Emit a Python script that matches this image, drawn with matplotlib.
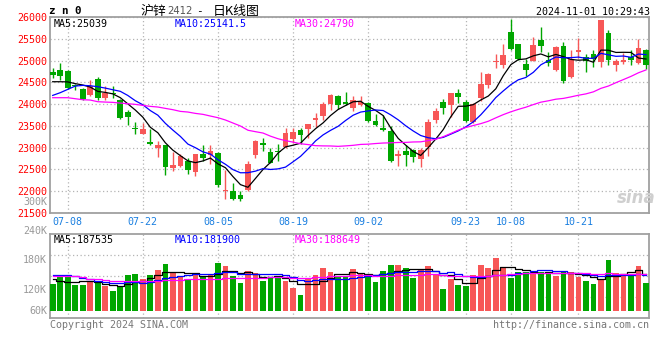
import matplotlib
matplotlib.use("Agg")
import matplotlib.pyplot as plt
import numpy as np
import pandas as pd

plt.rcParams['font.family'] = ['DejaVu Sans Mono', 'Noto Sans CJK SC']

# trading days shown, 2024-07-04 .. 2024-11-01 (exchange holidays removed)
holidays = ['2024-09-16', '2024-09-17', '2024-10-01', '2024-10-02',
            '2024-10-03', '2024-10-04', '2024-10-07']
dates = [d for d in pd.bdate_range('2024-07-04', '2024-11-01')
         if d.strftime('%Y-%m-%d') not in holidays]
tick_labels = ['07-08', '07-22', '08-05', '08-19', '09-02', '09-23', '10-08', '10-21']

opens = [24735, 24774, 24751, 24430, 24338, 24208, 24583, 24147, 24254, 24086,
         23818, 23459, 23313, 23130, 23000, 23054, 22526, 22572, 22694, 22442,
         22847, 22832, 22878, 22014, 21999, 21907, 22029, 22832, 23107, 22901,
         22924, 23015, 23191, 23398, 23420, 23642, 23726, 24009, 24185, 24055,
         23917, 23979, 24032, 23612, 23459, 23375, 22817, 22916, 22939, 22748,
         23015, 23627, 24040, 23979, 24246, 24055, 23589, 24139, 24437, 24972,
         24896, 25653, 25370, 24911, 24988, 25469, 25018, 24774, 25324, 24621,
         25202, 25087, 25141, 24965, 25622, 24896, 24965, 25079, 24942, 25240]
highs = [24835, 24934, 24774, 24468, 24361, 24560, 24621, 24422, 24407, 24124,
         23856, 23596, 23558, 23420, 23145, 23054, 22901, 22847, 22755, 22862,
         23054, 23054, 22901, 22495, 22197, 22006, 22694, 23168, 23229, 23000,
         23076, 23443, 23443, 23451, 23550, 23787, 24047, 24239, 24200, 24284,
         24177, 24177, 24055, 23765, 23742, 23497, 22939, 23054, 22977, 23000,
         23650, 23902, 24109, 24246, 24338, 24086, 24032, 24743, 24720, 25156,
         25370, 25943, 25370, 25041, 25546, 25775, 25202, 25332, 25431, 25232,
         25508, 25141, 25232, 25920, 25691, 25026, 25179, 25232, 25485, 25263]
lows = [24605, 24552, 24353, 24323, 24101, 24193, 24086, 24086, 24131, 23665,
        23520, 23306, 23306, 23061, 22786, 22373, 22465, 22557, 22388, 22342,
        22694, 22633, 22106, 21815, 21807, 21777, 22006, 22771, 22924, 22641,
        22694, 23000, 23107, 23076, 23229, 23474, 23627, 23864, 23879, 23979,
        23841, 23956, 23596, 23489, 23382, 22671, 22580, 22580, 22679, 22557,
        22809, 23573, 23780, 23703, 24032, 23589, 23573, 24070, 24361, 24835,
        24835, 25240, 25018, 24644, 24988, 25194, 24873, 24758, 24491, 24605,
        25064, 24735, 24850, 24850, 24888, 24758, 24926, 24896, 24926, 24797]
closes = [24659, 24644, 24368, 24407, 24116, 24422, 24147, 24254, 24238, 23680,
          23711, 23436, 23436, 23076, 23054, 22556, 22595, 22801, 22480, 22847,
          22755, 22924, 22136, 22037, 21830, 21830, 22618, 23153, 23061, 22648,
          22893, 23329, 23352, 23291, 23535, 23673, 23994, 24200, 23979, 23994,
          24101, 24055, 23612, 23512, 23405, 22694, 22847, 22832, 22786, 22947,
          23589, 23833, 23917, 24246, 24162, 23604, 24009, 24453, 24697, 24995,
          25118, 25263, 25034, 24781, 25347, 25332, 24934, 25309, 24529, 25026,
          25240, 24988, 25026, 25920, 25011, 24988, 25003, 25011, 25278, 24896]
volumes = [137700, 175100, 183600, 132600, 132600, 146200, 146200, 129200, 102000, 124100,
           183600, 188700, 163200, 183600, 209100, 239700, 197200, 175100, 158100, 192100,
           171700, 183600, 246500, 229500, 178500, 141100, 204000, 192100, 153000, 171700,
           171700, 153000, 119000, 81600, 163200, 183600, 221000, 198900, 175100, 175100,
           214200, 193800, 187000, 147900, 204000, 234600, 234600, 219300, 168300, 215900,
           229500, 188700, 112200, 163200, 132600, 127500, 183600, 234600, 219300, 270300,
           219300, 168300, 198900, 198900, 198900, 198900, 193800, 180200, 204000, 198900,
           173400, 153000, 137700, 158100, 261800, 193800, 188700, 183600, 229500, 142800]

# moving-average values at the left edge (they depend on days before the window)
ma5_head = [24514, 24514, 24510, 24470]
ma10_head = [24200, 24262, 24338, 24414, 24430, 24422, 24399, 24368, 24330]
ma30_head = [24147, 24147, 24147, 24124, 24101, 24093, 24055, 24047, 24040, 24024,
             24009, 23994, 23971, 23948, 23933, 23902, 23872, 23833, 23818, 23787,
             23765, 23726, 23688, 23635, 23566, 23497, 23400, 23367, 23336]
vma5_head = [163200, 153000, 149600, 149600]
vma10_head = [183600, 183600, 181900, 180200, 170000, 161500, 153000, 147900, 144500]
vma30_head = [178500, 178500, 178500, 176800, 175100, 163200, 161500, 156400, 153000, 153000,
              153000, 151300, 151300, 153000, 154700, 156400, 158100, 159800, 161500, 161500,
              163200, 164900, 164900, 166600, 166600, 168300, 168300, 170000, 170000]

RED = '#f75757'
GREEN = '#00a600'
GRID = '#b4b4b4'
FRAME = '#a0a0a0'
FS = 7.2


def moving_avg(values, n, head):
    s = pd.Series(values, dtype=float).rolling(n).mean()
    s.iloc[:len(head)] = head
    return s.values


W, H = 660, 360


def box(l, t, r, b):
    return [l / W, 1 - b / H, (r - l) / W, (b - t) / H]


def px_text(x, y, s, **kw):
    kw.setdefault('fontsize', FS)
    kw.setdefault('va', 'center')
    return fig.text(x / W, 1 - y / H, s, **kw)


fig = plt.figure(figsize=(6.6, 3.6), dpi=100)
ax = fig.add_axes(box(50, 17, 649, 213))
axv = fig.add_axes(box(50, 234, 649, 318))

x = np.arange(len(dates))
o = np.array(opens, float)
c = np.array(closes, float)
h = np.array(highs, float)
l = np.array(lows, float)
colors = np.where(c >= o, RED, GREEN)

# candles
ax.vlines(x, l, h, colors=colors, lw=1, zorder=3)
ax.bar(x, np.maximum(np.abs(c - o), 25), bottom=np.minimum(o, c), width=0.76,
       color=colors, linewidth=0, zorder=3)

ax.plot(x, moving_avg(closes, 5, ma5_head), color='black', lw=0.9, zorder=4)
ax.plot(x, moving_avg(closes, 10, ma10_head), color='#0000ff', lw=0.9, zorder=4)
ax.plot(x, moving_avg(closes, 30, ma30_head), color='#ff00ff', lw=0.9, zorder=4)

# volume
axv.bar(x, volumes, width=0.76, color=colors, linewidth=0, zorder=3)
axv.plot(x, moving_avg(volumes, 5, vma5_head), color='black', lw=0.9,
         drawstyle='steps-mid', zorder=4)
axv.plot(x, moving_avg(volumes, 10, vma10_head), color='#0000ff', lw=0.9,
         drawstyle='steps-mid', zorder=4)
axv.plot(x, moving_avg(volumes, 30, vma30_head), color='#ff00ff', lw=0.9,
         drawstyle='steps-mid', zorder=4)

date_str = [d.strftime('%m-%d') for d in dates]
tick_pos = [date_str.index(t) for t in tick_labels]

for a in (ax, axv):
    a.set_xlim(-0.36, 79.4)
    a.set_xticks(tick_pos)
    a.grid(True, ls=(0, (1, 2)), color=GRID, lw=0.9, zorder=0)
    a.tick_params(length=0)
    for sp in a.spines.values():
        sp.set_color(FRAME)
        sp.set_linewidth(1.3)

ax.set_ylim(21500, 26000)
ax.set_yticks(np.arange(21500, 26001, 500))
ax.set_yticklabels([str(v) for v in range(21500, 26001, 500)], color='#ff0000', fontsize=FS)
ax.tick_params(axis='y', pad=2)
ax.set_xticklabels(tick_labels, color='#1a7fe0', fontsize=FS)
ax.tick_params(axis='x', pad=3)

vlo, vhi = -35700, 392700
axv.set_ylim(vlo, vhi)
axv.set_yticks([vlo + (vhi - vlo) * k / 4 for k in (1, 2, 3)])
axv.set_yticklabels([])
axv.set_xticklabels([])

# header
cjk = ['Noto Sans CJK SC', 'DejaVu Sans']
px_text(49, 11, 'z n 0', fontweight='bold', fontsize=7.8)
px_text(140, 11, '沪锌', fontsize=9.3, family=cjk)
px_text(167, 11.5, '2412', fontsize=7.2, family='DejaVu Sans', color='#555555')
px_text(196, 11, '-', fontsize=8, family='DejaVu Sans Mono')
px_text(213, 11, '日K线图', fontsize=9.3, family=cjk)
px_text(650, 12, '2024-11-01 10:29:43', ha='right')

# legends
px_text(54, 24, 'MA5:25039', color='black')
px_text(175, 24, 'MA10:25141.5', color='#0000ff')
px_text(295, 24, 'MA30:24790', color='#ff00ff')
px_text(54, 240, 'MA5:187535', color='black')
px_text(175, 240, 'MA10:181900', color='#0000ff')
px_text(295, 240, 'MA30:188649', color='#ff00ff')

# volume scale labels as drawn by the source chart
for s, yy in [('300K', 202), ('240K', 231), ('180K', 260), ('120K', 290), ('60K', 311)]:
    px_text(47, yy, s, ha='right', color='#999999')

px_text(50, 325, 'Copyright 2024 SINA.COM', color='#777777')
px_text(649, 325, 'http://finance.sina.com.cn', ha='right', color='#777777')
px_text(636, 198, 'sina', ha='center', color='#cfcfcf', fontsize=12,
        fontweight='bold', style='italic', family='DejaVu Sans')

fig.savefig('out.png', dpi=100, facecolor='white')
